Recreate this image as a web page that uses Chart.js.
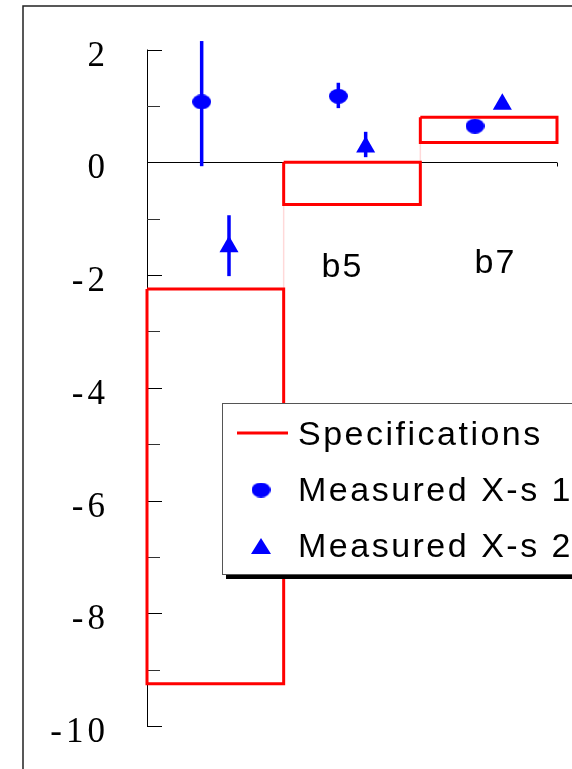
<!DOCTYPE html>
<html>
<head>
<meta charset="utf-8">
<script src="https://cdn.jsdelivr.net/npm/chart.js@4/dist/chart.umd.min.js"></script>
<style>
  html, body { margin: 0; padding: 0; background: #fff; }
  #wrap { width: 572px; height: 769px; position: relative; }
</style>
</head>
<body>
<div id="wrap"><canvas id="grafico"></canvas></div>
<script>
// bins along x (0..3), spec limits per bin
const binNames = ['b3', 'b5', 'b7'];
const binLabels = ['', 'b5', 'b7'];
const specLow = [-9.25, -0.75, 0.35];
const specHigh = [-2.25, 0.0, 0.8];

// measured values with error bar ends
const xs1Pos = [0.4, 1.4, 2.4];
const xs1Val = [1.07, 1.17, 0.64];
const xs1Lo = [-0.07, 0.96, 0.64];
const xs1Hi = [2.15, 1.41, 0.64];

const xs2Pos = [0.6, 1.6, 2.6];
const xs2Val = [-1.5, 0.27, 1.03];
const xs2Lo = [-2.02, 0.09, 1.03];
const xs2Hi = [-0.94, 0.54, 1.03];

const yTicks = [2, 0, -2, -4, -6, -8, -10];
const yMinor = [1, -1, -3, -5, -7, -9];

const legendLabels = ['Specifications', 'Measured X-s 1', 'Measured X-s 2'];

const RED = '#ff0000';
const BLUE = '#0000ff';

// rectangles for specs, separated by null so they don't join
const specPts = [];
specLow.forEach((lo, i) => {
    const hi = specHigh[i];
    specPts.push({x: i, y: hi}, {x: i + 1, y: hi}, {x: i + 1, y: lo}, {x: i, y: lo}, {x: i, y: hi}, {x: i, y: null});
});
// faint steps between neighbouring boxes
const stepPts = [];
for (let i = 1; i < specLow.length; i++) {
    stepPts.push({x: i, y: specHigh[i - 1]}, {x: i, y: specLow[i]}, {x: i, y: null});
}

// slightly flattened dot like the original
function fazerElipse(w, h, cor) {
    const c = document.createElement('canvas');
    c.width = w; c.height = h;
    const g = c.getContext('2d');
    g.fillStyle = cor;
    g.beginPath();
    g.ellipse(w / 2, h / 2, w / 2, h / 2, 0, 0, Math.PI * 2);
    g.fill();
    return c;
}
const elipse = fazerElipse(19, 15, BLUE);

const moldura = {
    id: 'moldura',
    beforeDraw(chart) {
        const ctx = chart.ctx;
        ctx.save();
        ctx.strokeStyle = '#222';
        ctx.lineWidth = 1.5;
        ctx.beginPath();
        ctx.moveTo(23, 769);
        ctx.lineTo(23, 6);
        ctx.lineTo(572, 6);
        ctx.stroke();
        ctx.restore();
    },
    beforeDatasetsDraw(chart) {
        const ctx = chart.ctx;
        const x = chart.scales.x, y = chart.scales.y;
        const x0 = x.getPixelForValue(0);
        ctx.save();
        // y axis line
        ctx.strokeStyle = '#000';
        ctx.lineWidth = 1;
        ctx.beginPath();
        ctx.moveTo(x0 + 0.5, y.getPixelForValue(2));
        ctx.lineTo(x0 + 0.5, y.getPixelForValue(-10));
        ctx.stroke();
        // inward ticks
        yTicks.forEach(v => {
            const p = Math.round(y.getPixelForValue(v)) + 0.5;
            ctx.beginPath(); ctx.moveTo(x0, p); ctx.lineTo(x0 + 15, p); ctx.stroke();
        });
        ctx.strokeStyle = '#333';
        yMinor.forEach(v => {
            const p = Math.round(y.getPixelForValue(v)) + 0.5;
            ctx.beginPath(); ctx.moveTo(x0, p); ctx.lineTo(x0 + 13, p); ctx.stroke();
        });
        // zero line with bin ticks
        const z = Math.round(y.getPixelForValue(0)) + 0.5;
        ctx.strokeStyle = '#000';
        ctx.beginPath(); ctx.moveTo(x0, z); ctx.lineTo(x.getPixelForValue(3), z); ctx.stroke();
        [1, 2, 3].forEach(b => {
            const p = Math.round(x.getPixelForValue(b)) + 0.5;
            ctx.beginPath(); ctx.moveTo(p, z); ctx.lineTo(p, z + 4); ctx.stroke();
        });
        // tick labels
        ctx.fillStyle = '#000';
        ctx.font = '35px "Liberation Serif", "Times New Roman", serif';
        ctx.letterSpacing = '4px';
        ctx.textAlign = 'right';
        ctx.textBaseline = 'alphabetic';
        yTicks.forEach(v => {
            ctx.fillText(String(v), 109, y.getPixelForValue(v) + 16);
        });
        // bin names
        ctx.font = '34px "Liberation Sans", Arial, sans-serif';
        ctx.letterSpacing = '2px';
        ctx.textAlign = 'center';
        ctx.fillText(binLabels[1], x.getPixelForValue(1.43), y.getPixelForValue(-2.04));
        ctx.fillText(binLabels[2], x.getPixelForValue(2.55), y.getPixelForValue(-1.97));
        // error bars
        ctx.strokeStyle = BLUE;
        ctx.lineWidth = 3.5;
        const barras = (pos, lo, hi) => pos.forEach((px, i) => {
            if (hi[i] === lo[i]) return;
            const xp = x.getPixelForValue(px);
            ctx.beginPath();
            ctx.moveTo(xp, y.getPixelForValue(hi[i]));
            ctx.lineTo(xp, y.getPixelForValue(lo[i]));
            ctx.stroke();
        });
        barras(xs1Pos, xs1Lo, xs1Hi);
        barras(xs2Pos, xs2Lo, xs2Hi);
        ctx.restore();
    },
    afterDraw(chart) {
        // legend box with drop shadow
        const ctx = chart.ctx;
        ctx.save();
        ctx.fillStyle = '#000';
        ctx.fillRect(226, 407, 400, 172);
        ctx.fillStyle = '#fff';
        ctx.fillRect(222, 403, 400, 171);
        ctx.strokeStyle = '#555';
        ctx.lineWidth = 1;
        ctx.strokeRect(222.5, 403.5, 400, 171);

        ctx.strokeStyle = RED;
        ctx.lineWidth = 3;
        ctx.beginPath(); ctx.moveTo(237, 433); ctx.lineTo(288, 433); ctx.stroke();
        ctx.drawImage(elipse, 261 - 9.5, 490 - 7.5);
        ctx.fillStyle = BLUE;
        ctx.beginPath();
        ctx.moveTo(261, 538); ctx.lineTo(271, 554); ctx.lineTo(251, 554); ctx.closePath();
        ctx.fill();

        ctx.fillStyle = '#000';
        ctx.font = '34px "Liberation Sans", Arial, sans-serif';
        ctx.letterSpacing = '2.5px';
        ctx.textAlign = 'left';
        ctx.fillText(legendLabels[0], 298, 445);
        ctx.fillText(legendLabels[1], 298, 501);
        ctx.fillText(legendLabels[2], 298, 557);
        ctx.restore();
    }
};

const ctx = document.getElementById('grafico').getContext('2d');
new Chart(ctx, {
    type: 'scatter',
    data: {
        datasets: [
            {
                label: 'steps',
                type: 'line',
                data: stepPts,
                borderColor: 'rgba(255,0,0,0.15)',
                borderWidth: 1.5,
                pointRadius: 0,
                spanGaps: false
            },
            {
                label: legendLabels[0],
                type: 'line',
                data: specPts,
                borderColor: RED,
                borderWidth: 3,
                pointRadius: 0,
                spanGaps: false,
                borderJoinStyle: 'miter'
            },
            {
                label: legendLabels[1],
                data: xs1Pos.map((px, i) => ({x: px, y: xs1Val[i]})),
                pointStyle: elipse,
                backgroundColor: BLUE,
                borderColor: BLUE
            },
            {
                label: legendLabels[2],
                data: xs2Pos.map((px, i) => ({x: px, y: xs2Val[i]})),
                pointStyle: 'triangle',
                pointRadius: 11,
                backgroundColor: BLUE,
                borderColor: BLUE,
                borderWidth: 0
            }
        ]
    },
    options: {
        responsive: true,
        maintainAspectRatio: false,
        animation: false,
        clip: false,
        layout: { padding: { left: 147, right: 15, top: 49.5, bottom: 43 } },
        plugins: { legend: { display: false }, tooltip: { enabled: false } },
        scales: {
            x: { type: 'linear', min: 0, max: 3, display: false },
            y: { type: 'linear', min: -10, max: 2, display: false }
        }
    },
    plugins: [moldura]
});
</script>
</body>
</html>
